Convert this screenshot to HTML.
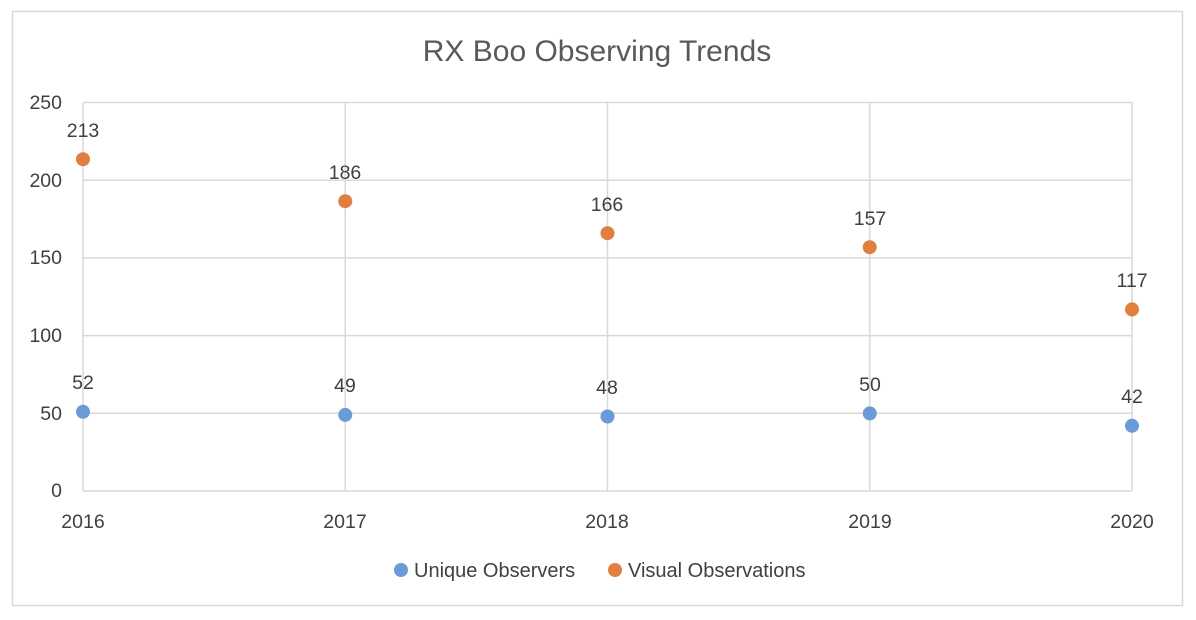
<!DOCTYPE html>
<html><head><meta charset="utf-8"><style>body{margin:0;background:#fff}svg{display:block}</style></head><body>
<svg width="1196" height="620" xmlns="http://www.w3.org/2000/svg" font-family="Liberation Sans, sans-serif">
<rect x="0" y="0" width="1196" height="620" fill="#fff"/>
<rect x="12.5" y="11.5" width="1170" height="594" fill="none" stroke="#d9d9d9" stroke-width="1.5"/>
<text x="597" y="61" text-anchor="middle" font-size="30" fill="#595959">RX Boo Observing Trends</text>
<g stroke="#d9d9d9" stroke-width="1.5" fill="none">
<line x1="83" y1="102.5" x2="1132" y2="102.5"/>
<line x1="83" y1="180.2" x2="1132" y2="180.2"/>
<line x1="83" y1="257.9" x2="1132" y2="257.9"/>
<line x1="83" y1="335.6" x2="1132" y2="335.6"/>
<line x1="83" y1="413.3" x2="1132" y2="413.3"/>
<line x1="83" y1="491" x2="1132" y2="491"/>
<line x1="83" y1="102.5" x2="83" y2="491"/>
<line x1="345.25" y1="102.5" x2="345.25" y2="491"/>
<line x1="607.5" y1="102.5" x2="607.5" y2="491"/>
<line x1="869.75" y1="102.5" x2="869.75" y2="491"/>
<line x1="1132" y1="102.5" x2="1132" y2="491"/>
</g>
<g font-size="19.5" fill="#404040" text-anchor="end">
<text x="62" y="109">250</text><text x="62" y="187">200</text><text x="62" y="264">150</text>
<text x="62" y="342">100</text><text x="62" y="420">50</text><text x="62" y="497">0</text>
</g>
<g font-size="19.5" fill="#404040" text-anchor="middle">
<text x="83" y="528">2016</text><text x="345" y="528">2017</text><text x="607" y="528">2018</text><text x="870" y="528">2019</text><text x="1132" y="528">2020</text>
</g>
<g fill="#e07f3f">
<circle cx="83" cy="159.2" r="7"/><circle cx="345.25" cy="201.2" r="7"/><circle cx="607.5" cy="233.2" r="7"/><circle cx="869.75" cy="247.2" r="7"/><circle cx="1132" cy="309.4" r="7"/>
</g>
<g fill="#6a9bd6">
<circle cx="83" cy="411.8" r="7"/><circle cx="345.25" cy="414.9" r="7"/><circle cx="607.5" cy="416.5" r="7"/><circle cx="869.75" cy="413.4" r="7"/><circle cx="1132" cy="425.8" r="7"/>
</g>
<g font-size="19.5" fill="#404040" text-anchor="middle">
<text x="83" y="137">213</text><text x="345" y="179">186</text><text x="607" y="211">166</text><text x="870" y="225">157</text><text x="1132" y="287">117</text>
<text x="83" y="389">52</text><text x="345" y="392">49</text><text x="607" y="394">48</text><text x="870" y="391">50</text><text x="1132" y="403">42</text>
</g>
<circle cx="401" cy="570" r="7" fill="#6a9bd6"/>
<text x="414" y="577" font-size="20" fill="#404040">Unique Observers</text>
<circle cx="615" cy="570" r="7" fill="#e07f3f"/>
<text x="628" y="577" font-size="20" fill="#404040">Visual Observations</text>
</svg>
</body></html>
